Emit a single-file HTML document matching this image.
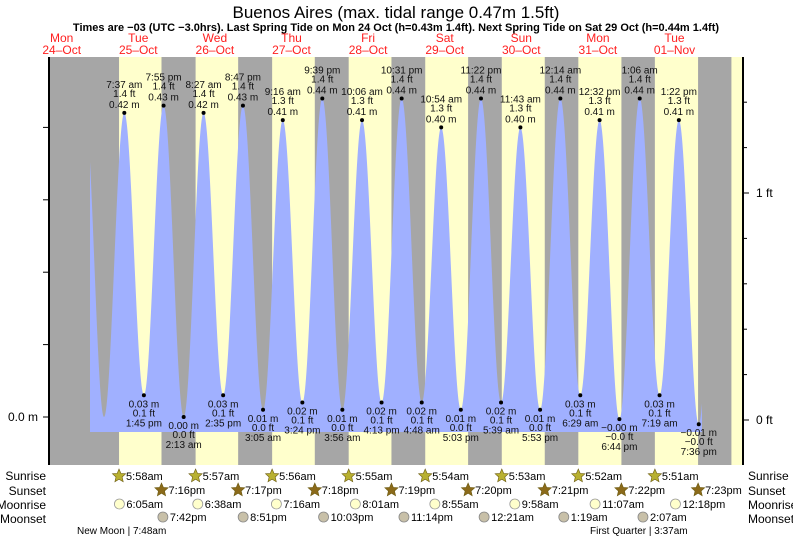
<!DOCTYPE html>
<html><head><meta charset="utf-8"><style>
body{margin:0;background:#fff}
svg{display:block;font-family:"Liberation Sans",sans-serif}
</style></head><body>
<svg id="c" width="793" height="539" xmlns="http://www.w3.org/2000/svg"></svg>
<script>
// ---- data ----
const dayNames = ["Mon","Tue","Wed","Thu","Fri","Sat","Sun","Mon","Tue"];
const dayDates = ["24–Oct","25–Oct","26–Oct","27–Oct","28–Oct","29–Oct","30–Oct","31–Oct","01–Nov"];
// tide extremes: day offset from Tue 25-Oct, time, height m, label flag
const tideDays = [-1,0,0,0,0,1,1,1,1,2,2,2,2,3,3,3,3,4,4,4,4,5,5,5,5,6,6,6,6,7,7,7,7,8];
const tideTimes = ["19:10","1:15","7:37","13:45","19:55","2:13","8:27","14:35","20:47","3:05","9:16","15:24","21:39","3:56","10:06","16:13","22:31","4:48","10:54","17:03","23:22","5:39","11:43","17:53","0:14","6:29","12:32","18:44","1:06","7:19","13:22","19:36","1:50"];
const tideDayIdx = [-1,0,0,0,0,1,1,1,1,2,2,2,2,3,3,3,3,4,4,4,4,5,5,5,6,6,6,6,7,7,7,7,8];
const tideHeights = [0.43,0.00,0.42,0.03,0.43,0.00,0.42,0.03,0.43,0.01,0.41,0.02,0.44,0.01,0.41,0.02,0.44,0.02,0.40,0.01,0.44,0.02,0.40,0.01,0.44,0.03,0.41,-0.003,0.44,0.03,0.41,-0.01,0.44];
const tideLabelTimes = ["","","7:37 am","1:45 pm","7:55 pm","2:13 am","8:27 am","2:35 pm","8:47 pm","3:05 am","9:16 am","3:24 pm","9:39 pm","3:56 am","10:06 am","4:13 pm","10:31 pm","4:48 am","10:54 am","5:03 pm","11:22 pm","5:39 am","11:43 am","5:53 pm","12:14 am","6:29 am","12:32 pm","6:44 pm","1:06 am","7:19 am","1:22 pm","7:36 pm",""];
const tideLabelM = ["","","0.42 m","0.03 m","0.43 m","0.00 m","0.42 m","0.03 m","0.43 m","0.01 m","0.41 m","0.02 m","0.44 m","0.01 m","0.41 m","0.02 m","0.44 m","0.02 m","0.40 m","0.01 m","0.44 m","0.02 m","0.40 m","0.01 m","0.44 m","0.03 m","0.41 m","−0.00 m","0.44 m","0.03 m","0.41 m","−0.01 m",""];
const tideLabelFt = ["","","1.4 ft","0.1 ft","1.4 ft","0.0 ft","1.4 ft","0.1 ft","1.4 ft","0.0 ft","1.3 ft","0.1 ft","1.4 ft","0.0 ft","1.3 ft","0.1 ft","1.4 ft","0.1 ft","1.3 ft","0.0 ft","1.4 ft","0.1 ft","1.3 ft","0.0 ft","1.4 ft","0.1 ft","1.3 ft","−0.0 ft","1.4 ft","0.1 ft","1.3 ft","−0.0 ft",""];
const sunrise = ["5:58","5:57","5:56","5:55","5:54","5:53","5:52","5:51","5:50"];
const sunriseLabels = ["5:58am","5:57am","5:56am","5:55am","5:54am","5:53am","5:52am","5:51am",""];
const sunset = ["19:16","19:17","19:18","19:19","19:20","19:21","19:22","19:23"];
const sunsetLabels = ["7:16pm","7:17pm","7:18pm","7:19pm","7:20pm","7:21pm","7:22pm","7:23pm"];
const moonriseDay = [0,1,2,3,4,5,6,7];
const moonrise = ["6:05","6:38","7:16","8:01","8:55","9:58","11:07","12:18"];
const moonriseLabels = ["6:05am","6:38am","7:16am","8:01am","8:55am","9:58am","11:07am","12:18pm"];
const moonsetDay = [0,1,2,3,5,6,7];
const moonset = ["19:42","20:51","22:03","23:14","0:21","1:19","2:07"];
const moonsetLabels = ["7:42pm","8:51pm","10:03pm","11:14pm","12:21am","1:19am","2:07am"];
const rightTicksFt = [0,1];
const rightTickLabels = ["0 ft","1 ft"];

// ---- scales ----
const X0=100, PXDAY=76.6, Y0=417, PXM=724, FTY0=420, PXFT=227;
const L=49,R=743,T=57,B=465;
function hrs(s){const p=s.split(":");return +p[0]+ +p[1]/60;}
function xOf(day,t){return X0+(day+hrs(t)/24)*PXDAY;}
function yOf(m){return Y0-m*PXM;}
const svg=document.getElementById('c');
const NS="http://www.w3.org/2000/svg";
function mk(tag,attrs,parent){const e=document.createElementNS(NS,tag);for(const k in attrs)e.setAttribute(k,attrs[k]);(parent||svg).appendChild(e);return e;}
function txt(s,x,y,size,fill,anchor,weight){const e=mk('text',{x:x,y:y,'font-size':size,fill:fill||'#000','text-anchor':anchor||'middle'});if(weight)e.setAttribute('font-weight',weight);e.textContent=s;return e;}

// titles
let e=txt("Buenos Aires (max. tidal range 0.47m 1.5ft)",396,18,17,'#000');


e=txt("Times are −03 (UTC −3.0hrs). Last Spring Tide on Mon 24 Oct (h=0.43m 1.4ft). Next Spring Tide on Sat 29 Oct (h=0.44m 1.4ft)",396,31,11,'#000','middle','bold');


for(let i=0;i<dayNames.length;i++){
  const x=X0+(i-1+0.5)*PXDAY;
  e=txt(dayNames[i],x,42,12,'#ff2020');
  
  
  e=txt(dayDates[i],x,54,12,'#ff2020');
  
  
}
// background
e=mk('rect',{x:L,y:T,width:R-L,height:B-T,fill:'#a6a6a6'});


for(let i=0;i<sunrise.length;i++){
  const x1=xOf(i,sunrise[i]);
  const x2=i<sunset.length?xOf(i,sunset[i]):R;
  e=mk('rect',{x:x1,y:T,width:Math.min(x2,R)-x1,height:B-T,fill:'#ffffcc'});
  
  
}
// tide curve
const tx=tideTimes.map((t,i)=>xOf(tideDayIdx[i],t));
function hAt(x){
  for(let i=0;i<tx.length-1;i++){
    if(x>=tx[i]&&x<=tx[i+1]){const f=(x-tx[i])/(tx[i+1]-tx[i]);return tideHeights[i]+(tideHeights[i+1]-tideHeights[i])*(1-Math.cos(Math.PI*f))/2;}
  }
  return 0;
}
const xs=90,xe=702,yb=432;
let d="M"+xs+","+yb;
for(let x=xs;x<=xe;x+=0.5)d+=" L"+x+","+yOf(hAt(x)).toFixed(1);
d+=" L"+xe+","+yb+" Z";
e=mk('path',{d:d,fill:'#a0b0ff'});


// extremes labels
for(let i=0;i<tx.length;i++){
  if(!tideLabelTimes[i])continue;
  const x=tx[i],y=yOf(tideHeights[i]);
  const hi=tideHeights[i]>0.2;
  e=mk('circle',{cx:x,cy:y,r:2,fill:'#000'});
  
  
  const g=mk('g',{});
  
  
  const lines=hi?[tideLabelTimes[i],tideLabelFt[i],tideLabelM[i]]:[tideLabelM[i],tideLabelFt[i],tideLabelTimes[i]];
  const ys=hi?[y-25,y-16,y-5]:[y+12,y+21,y+31];
  for(let k=0;k<3;k++){const t=txt(lines[k],x,ys[k],10,'#111');g.appendChild(t);}
}
// axes
e=mk('line',{x1:L,y1:T,x2:L,y2:B,stroke:'#000','stroke-width':2});


e=mk('line',{x1:R,y1:T,x2:R,y2:B,stroke:'#000','stroke-width':2});


for(let k=0;k<=5;k++){
  const y=yOf(k*0.1);if(y<T)break;
  e=mk('line',{x1:L-6,y1:y,x2:L,y2:y,stroke:'#000'});
  
  
}
e=txt("0.0 m",38,421,12,'#000','end');


for(let k=0;k<=7;k++){
  const y=FTY0-k*0.2*PXFT;
  e=mk('line',{x1:R,y1:y,x2:R+(k%5==0?6:4),y2:y,stroke:'#000'});
  
  
}
for(let k=0;k<rightTicksFt.length;k++){
  e=txt(rightTickLabels[k],756,FTY0-rightTicksFt[k]*PXFT+4,12,'#000','start');
  
  
}
// bottom rows
const rows=[["Sunrise",480],["Sunset",495],["Moonrise",509],["Moonset",523]];
for(const r of rows){
  e=txt(r[0],46,r[1],12,'#000','end');
  
  
  e=txt(r[0],748,r[1],12,'#000','start');
  
  
}
function star(cx,cy,fill){
  let p="";for(let k=0;k<10;k++){const a=-Math.PI/2+k*Math.PI/5;const rr=k%2?3.2:7;p+=(cx+rr*Math.cos(a)).toFixed(1)+","+(cy+rr*Math.sin(a)).toFixed(1)+" ";}
  return mk('polygon',{points:p,fill:fill,stroke:'#6b5a10','stroke-width':0.6});
}
for(let i=0;i<sunriseLabels.length;i++){
  if(!sunriseLabels[i])continue;
  const x=xOf(i,sunrise[i]);
  e=star(x,476,'#b8b030');
  
  
  e=txt(sunriseLabels[i],x+7,480,11,'#000','start');
  
  
}
for(let i=0;i<sunsetLabels.length;i++){
  const x=xOf(i,sunset[i]);
  e=star(x,490,'#8b6a1a');
  
  
  e=txt(sunsetLabels[i],x+7,494,11,'#000','start');
  
  
}
for(let i=0;i<moonrise.length;i++){
  const x=xOf(moonriseDay[i],moonrise[i]);
  e=mk('circle',{cx:x,cy:504,r:5,fill:'#ffffcc',stroke:'#999','stroke-width':0.8});
  
  
  e=txt(moonriseLabels[i],x+7,508,11,'#000','start');
  
  
}
for(let i=0;i<moonset.length;i++){
  const x=xOf(moonsetDay[i],moonset[i]);
  e=mk('circle',{cx:x,cy:517,r:5,fill:'#c8c0a8',stroke:'#888','stroke-width':0.8});
  
  
  e=txt(moonsetLabels[i],x+7,521,11,'#000','start');
  
  
}
e=txt("New Moon | 7:48am",77,534,10,'#000','start');


e=txt("First Quarter | 3:37am",590,534,10,'#000','start');


</script>
</body></html>
